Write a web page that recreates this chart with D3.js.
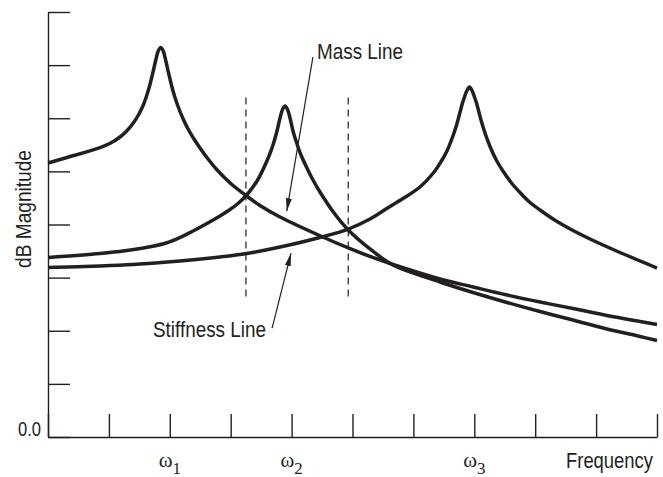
<!DOCTYPE html>
<html><head><meta charset="utf-8">
<script src="https://cdn.jsdelivr.net/npm/d3@7"></script>
<style>
html,body{margin:0;padding:0;background:#fff;}
svg{display:block;}
.lab{font-family:"Liberation Sans Narrow","Liberation Sans",Arial,sans-serif;fill:#231f20;}
.om{font-family:"Liberation Serif","DejaVu Serif",serif;fill:#231f20;}
</style>
</head><body>
<script>
// Frequency (0-100, 10 per tick) and dB (0-80, 10 per tick)
const curve1X = [0,3.12,8.54,10.30,11.82,12.92,14.01,14.89,15.65,16.21,16.70,17.19,17.68,18.10,18.51,18.92,19.33,19.82,20.31,20.80,21.36,22.12,23.00,23.92,24.96,26.22,27.70,30.0,32.51,34.93,38.10,44.94,49.31,52.87,56.65,64.37,69.79,75.37,80.79,86.21,91.79,97.21,100];
const curve1Y = [51.58,52.61,54.49,55.34,56.47,57.60,59.11,60.71,62.49,64.28,66.16,68.42,70.87,72.66,73.32,72.66,70.87,68.42,66.07,64.09,62.21,60.05,57.98,56.19,54.40,52.42,50.35,47.72,45.46,43.48,41.41,37.74,35.58,33.98,32.47,29.74,28.24,26.73,25.41,24.19,22.87,21.74,21.18];

const curve2X = [0,8.54,12.64,16.75,19.54,21.67,23.81,26.11,28.24,29.89,31.20,32.63,34.32,35.35,36.29,37.00,37.60,38.10,38.51,38.92,39.33,39.74,40.23,40.84,41.54,42.48,43.51,44.66,46.85,49.31,52.87,56.65,64.37,69.79,75.37,80.79,86.21,91.79,97.21,100];
const curve2Y = [33.79,34.54,35.05,35.80,36.56,37.55,38.78,40.19,41.60,42.82,43.95,45.55,48.19,50.45,52.89,55.15,57.60,60.05,61.65,62.31,61.65,60.05,57.60,55.34,53.08,50.73,48.38,46.12,42.35,38.96,35.39,32.38,29.18,27.20,25.32,23.62,22.02,20.33,18.92,18.16];

const curve3X = [0,8.54,13.96,21.67,28.24,32.63,38.10,44.94,49.31,52.87,55.62,58.29,61.08,63.27,64.45,65.47,66.58,67.21,67.73,68.06,68.39,68.8,69.21,69.62,70.03,70.36,70.69,71.22,71.84,72.58,73.65,74.76,76.11,77.50,79.06,80.79,83.58,86.21,89.0,93.92,100];
const curve3Y = [31.91,32.19,32.47,33.13,33.88,34.54,35.76,37.65,39.15,41.04,43.01,44.89,47.06,49.69,51.67,53.74,56.94,59.20,61.46,62.87,64.0,65.22,65.88,65.22,64.0,62.87,61.46,59.20,56.94,54.68,52.05,49.98,47.81,46.02,44.24,42.73,40.56,38.87,37.27,34.73,31.81];

const xTicks = [0,10,20,30,40,50,60,70,80,90,100];
const yTicks = [0,10,20,30,40,50,60,70,80];
const yTickLabels = ["0.0"];
const omegaLabels = [{x:20, sub:"1"},{x:40, sub:"2"},{x:70, sub:"3"}];
const dashedX = [32.5, 49.3];
const dashedY = [26.3, 63.9];
const arrows = [
  {name:"Mass Line", from:[43.5,71.5], to:[39.2,42.5]},
  {name:"Stiffness Line", from:[36.8,20.5], to:[39.9,34.6]}
];

const W = 663, H = 477;
const svg = d3.select("body").append("svg").attr("width",W).attr("height",H);
const x = d3.scaleLinear().domain([0,100]).range([48,657]);
const y = d3.scaleLinear().domain([0,80]).range([437,12]);
const ink = "#231f20";

svg.append("defs").append("marker").attr("id","ah")
  .attr("viewBox","0 0 13 8").attr("refX",13).attr("refY",4)
  .attr("markerWidth",13).attr("markerHeight",8).attr("markerUnits","userSpaceOnUse")
  .attr("orient","auto")
  .append("path").attr("d","M0,1 L13,4 L0,7 Z").attr("fill",ink);

// axes
const xAxis = d3.axisTop(x).tickValues(xTicks).tickSize(23).tickSizeOuter(0).tickFormat("");
const gx = svg.append("g").attr("transform",`translate(0,${y(0)})`).call(xAxis);
const yAxis = d3.axisRight(y).tickValues(yTicks).tickSize(22).tickSizeOuter(0).tickFormat("");
const gy = svg.append("g").attr("transform",`translate(${x(0)},0)`).call(yAxis);
[gx,gy].forEach(g=>{
  g.select(".domain").attr("stroke",ink).attr("stroke-width",1.4);
  g.selectAll(".tick line").attr("stroke",ink).attr("stroke-width",1.4);
});

// dashed lines
svg.selectAll(".dash").data(dashedX).enter().append("line")
  .attr("x1",d=>x(d)).attr("x2",d=>x(d)).attr("y1",y(dashedY[1])).attr("y2",y(dashedY[0]))
  .attr("stroke","#333").attr("stroke-width",1.3).attr("stroke-dasharray","7,5");

// curves
const line = d3.line().x(d=>x(d[0])).y(d=>y(d[1])).curve(d3.curveCatmullRom.alpha(0.5));
[[curve1X,curve1Y],[curve2X,curve2Y],[curve3X,curve3Y]].forEach(([xs,ys])=>{
  svg.append("path").datum(xs.map((v,i)=>[v,ys[i]]))
    .attr("d",line).attr("fill","none").attr("stroke",ink)
    .attr("stroke-width",3.5).attr("stroke-linejoin","round");
});

// arrows
svg.selectAll(".arr").data(arrows).enter().append("line")
  .attr("x1",d=>x(d.from[0])).attr("y1",d=>y(d.from[1]))
  .attr("x2",d=>x(d.to[0])).attr("y2",d=>y(d.to[1]))
  .attr("stroke",ink).attr("stroke-width",1.2).attr("marker-end","url(#ah)");

// texts (condensed face squeezed to the widths seen in the reference)
function lab(t, px, py, fs, len){
  return svg.append("text").attr("class","lab").attr("x",px).attr("y",py)
    .attr("font-size",fs).attr("textLength",len).attr("lengthAdjust","spacingAndGlyphs").text(t);
}
lab("Mass Line",317,59,22,86);
lab("Stiffness Line",153,337,22,113);
lab("Frequency",566,468,22,87);
lab(yTickLabels[0],18,436,21,23);
svg.append("text").attr("class","lab").attr("transform",`translate(31,268) rotate(-90)`)
  .attr("font-size",22).attr("textLength",118).attr("lengthAdjust","spacingAndGlyphs").text("dB Magnitude");

const om = svg.selectAll(".om").data(omegaLabels).enter().append("text")
  .attr("class","om").attr("x",d=>x(d.x)).attr("y",467).attr("text-anchor","middle").attr("font-size",21);
om.append("tspan").text("ω");
om.append("tspan").attr("dy",7).attr("font-size",17).text(d=>d.sub);
</script>
</body></html>
